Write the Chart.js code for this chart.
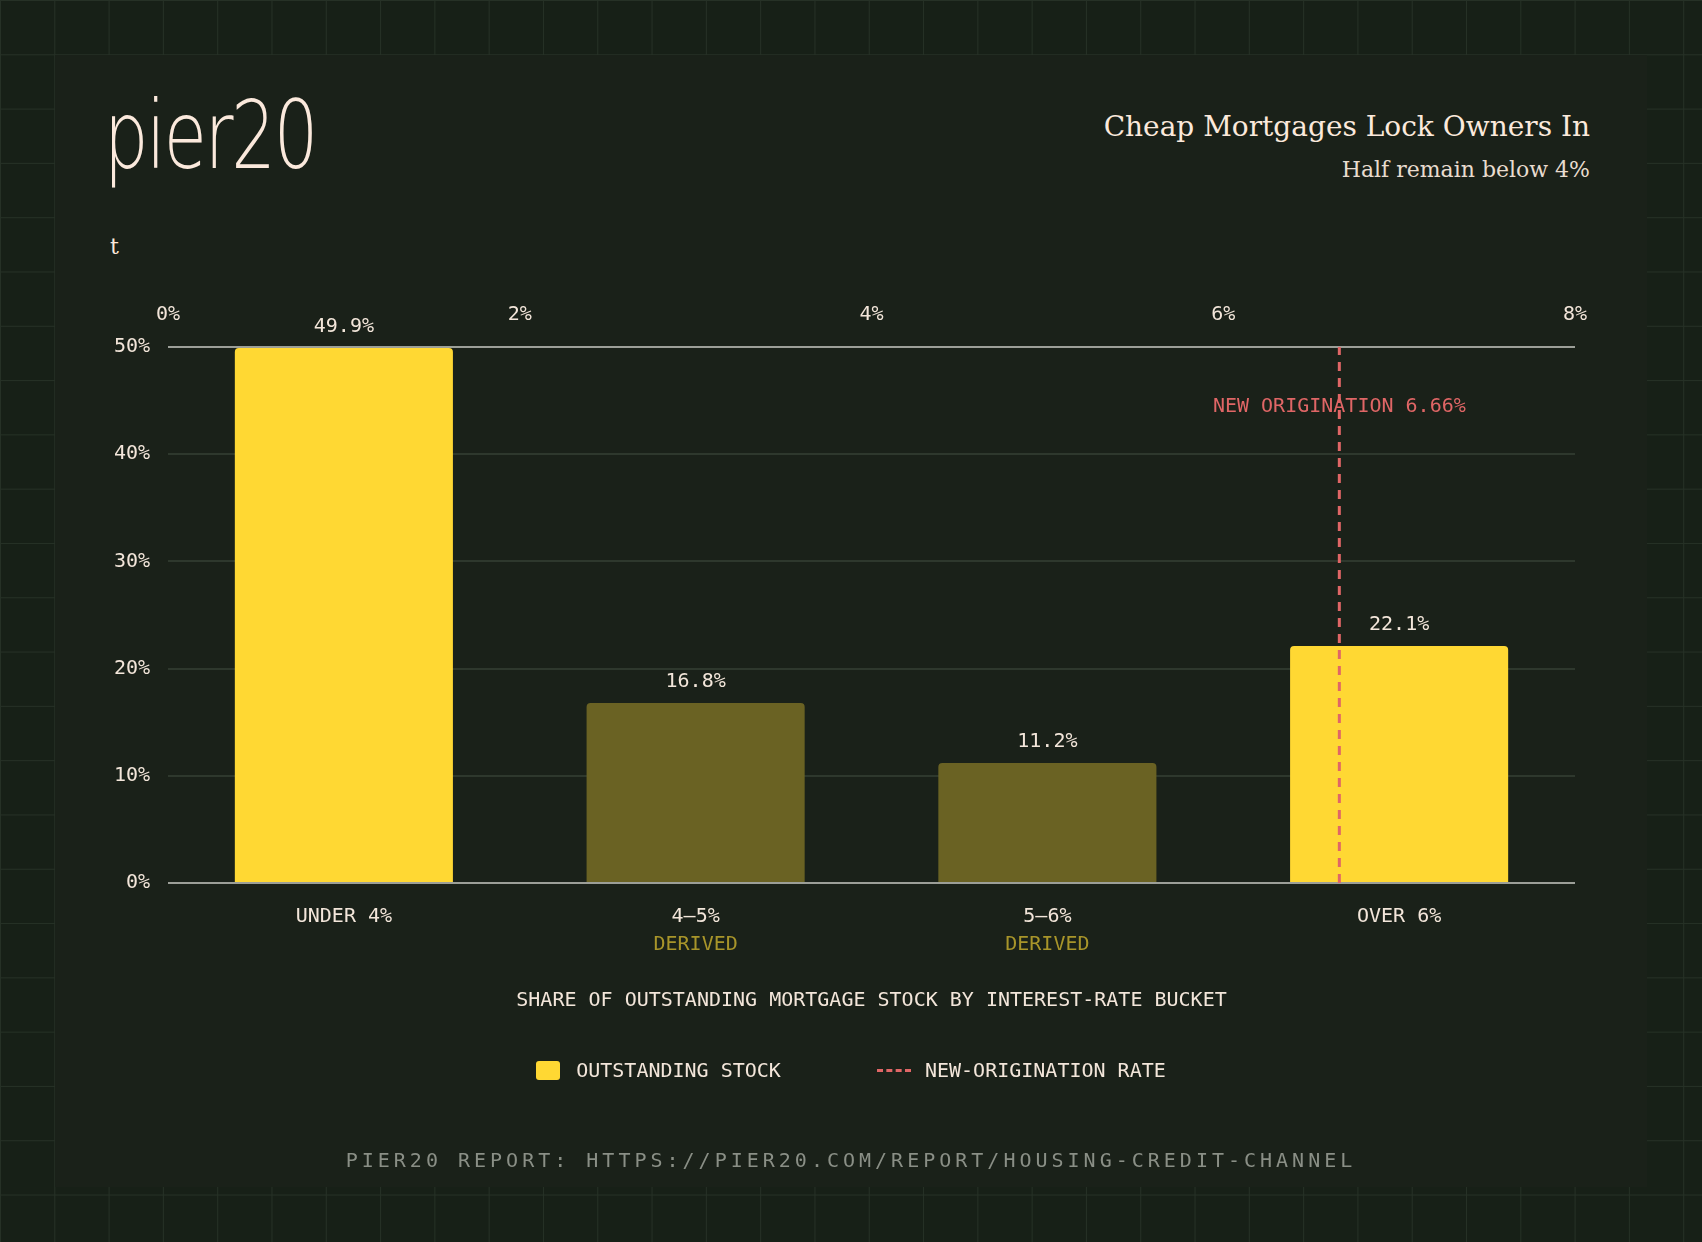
<!DOCTYPE html>
<html>
<head>
<meta charset="utf-8">
<script src="https://cdn.jsdelivr.net/npm/chart.js@4/dist/chart.umd.min.js"></script>
<style>
  html, body { margin: 0; padding: 0; }
  body {
    width: 1702px; height: 1242px; position: relative; overflow: hidden;
    background-color: #172017;
    background-image:
      linear-gradient(to right, #263126 1px, transparent 1px),
      linear-gradient(to bottom, #263126 1px, transparent 1px);
    background-size: 54.3px 54.3px;
  }
  #panel { position: absolute; left: 55px; top: 55px; width: 1592px; height: 1132px; background: #1a2119; }
  .mono { font-family: "DejaVu Sans Mono", "Liberation Mono", monospace; }
  #logo { position: absolute; left: 104px; top: 88px; font-family: "DejaVu Sans", sans-serif; font-weight: 200;
    font-size: 100px; color: #fbe9dc; letter-spacing: -3px; transform: scale(0.7, 0.95); transform-origin: left top; line-height: 1; }
  #title { position: absolute; right: 112px; top: 110px; font-family: "DejaVu Serif", "Liberation Serif", serif;
    font-size: 28px; color: #fbe9dc; }
  #subtitle { position: absolute; right: 112px; top: 157px; font-family: "DejaVu Serif", "Liberation Serif", serif;
    font-size: 22px; color: #e8dccf; }
  #t { position: absolute; left: 110px; top: 234px; font-family: "DejaVu Serif", serif; font-size: 22px; color: #fbe9dc; }
  #legend { position: absolute; top: 1056px; left: 0; width: 1702px; text-align: center; font-size: 20px; color: #f3e6da; }
  #legend span.item { display: inline-block; margin: 0 42px; vertical-align: middle; }
  .sw { display: inline-block; width: 24px; height: 19px; border-radius: 3px; background: #ffd833; vertical-align: -3px; margin-right: 16px; }
  .dash { display: inline-block; width: 34px; height: 0; border-top: 3px dashed #e06666; vertical-align: 5px; margin-right: 14px; }
  #footer { position: absolute; top: 1148px; left: 0; width: 1702px; text-align: center; font-size: 20px;
    letter-spacing: 4px; color: #8a8f86; }
  #wrap { position: absolute; left: 0; top: 0; width: 1702px; height: 1242px; }
</style>
</head>
<body>
<div id="panel"></div>
<div id="logo">pier20</div>
<div id="title">Cheap Mortgages Lock Owners In</div>
<div id="subtitle">Half remain below 4%</div>
<div id="t">t</div>
<div id="wrap"><canvas id="c" width="1702" height="1242"></canvas></div>
<div id="legend" class="mono">
  <span class="item"><span class="sw"></span>OUTSTANDING STOCK</span>
  <span class="item"><span class="dash"></span>NEW-ORIGINATION RATE</span>
</div>
<div id="footer" class="mono">PIER20 REPORT: HTTPS://PIER20.COM/REPORT/HOUSING-CREDIT-CHANNEL</div>
<script>
const buckets = ['UNDER 4%', '4–5%', '5–6%', 'OVER 6%'];
const shares = [49.9, 16.8, 11.2, 22.1];
const derived = [false, true, true, false];
const newOriginationRate = 6.66;
const yTicks = [0, 10, 20, 30, 40, 50];
const rateTicks = [0, 2, 4, 6, 8];

const MONO = '"DejaVu Sans Mono", "Liberation Mono", monospace';
const CREAM = '#f3e6da';

const overlay = {
  id: 'overlay',
  afterDatasetsDraw(chart) {
    const ctx = chart.ctx;
    const meta = chart.getDatasetMeta(0);
    const x = chart.scales.x;
    ctx.save();
    ctx.textAlign = 'center';
    ctx.font = '20px ' + MONO;
    meta.data.forEach((bar, i) => {
      ctx.fillStyle = CREAM;
      ctx.textBaseline = 'bottom';
      ctx.fillText(shares[i].toFixed(1) + '%', bar.x, bar.y - 11);
      if (derived[i]) {
        ctx.fillStyle = '#a8952a';
        ctx.textBaseline = 'middle';
        ctx.fillText('DERIVED', x.getPixelForValue(i), 945);
      }
    });
    const lx = chart.scales.x2.getPixelForValue(newOriginationRate);
    ctx.fillStyle = '#e06666';
    ctx.textBaseline = 'middle';
    ctx.fillText('NEW ORIGINATION ' + newOriginationRate.toFixed(2) + '%', lx, 407);
    ctx.fillStyle = CREAM;
    ctx.fillText('SHARE OF OUTSTANDING MORTGAGE STOCK BY INTEREST-RATE BUCKET', (chart.chartArea.left + chart.chartArea.right) / 2, 1001);
    ctx.restore();
  }
};

new Chart(document.getElementById('c'), {
  data: {
    labels: buckets,
    datasets: [{
      type: 'bar',
      data: shares,
      xAxisID: 'x', yAxisID: 'y',
      grouped: false,
      backgroundColor: derived.map(d => d ? '#6a6223' : '#ffd833'),
      borderRadius: { topLeft: 4, topRight: 4 },
      borderSkipped: 'bottom',
      categoryPercentage: 0.62, barPercentage: 1,
      order: 2
    }, {
      type: 'line',
      data: [{ x: newOriginationRate, y: 0 }, { x: newOriginationRate, y: 50 }],
      xAxisID: 'x2', yAxisID: 'y',
      borderColor: '#e06666', borderWidth: 3, borderDash: [9, 7],
      pointRadius: 0, order: 1
    }]
  },
  options: {
    responsive: false, animation: false, devicePixelRatio: 1,
    layout: { padding: { left: 108, right: 127, top: 297, bottom: 279 } },
    plugins: { legend: { display: false }, tooltip: { enabled: false } },
    scales: {
      x: {
        position: 'bottom', offset: true,
        grid: { display: false }, border: { display: false },
        ticks: { color: CREAM, font: { family: MONO, size: 20 }, padding: 14 },
        afterFit: s => { s.height = 80; }
      },
      x2: {
        type: 'linear', position: 'top', min: 0, max: 8,
        afterBuildTicks: s => { s.ticks = rateTicks.map(v => ({ value: v })); },
        grid: { display: false }, border: { display: false },
        ticks: { color: CREAM, font: { family: MONO, size: 20 }, padding: 12, callback: v => v + '%' },
        afterFit: s => { s.height = 50; }
      },
      y: {
        min: 0, max: 50,
        afterBuildTicks: s => { s.ticks = yTicks.map(v => ({ value: v })); },
        grid: { color: c => (c.tick.value === 0 || c.tick.value === 50) ? '#9c9f98' : '#2e382d', lineWidth: 2, drawTicks: false },
        border: { display: false },
        ticks: { color: CREAM, font: { family: MONO, size: 20 }, padding: 18, callback: v => v + '%' },
        afterFit: s => { s.width = 60; }
      }
    }
  },
  plugins: [overlay]
});
</script>
</body>
</html>
